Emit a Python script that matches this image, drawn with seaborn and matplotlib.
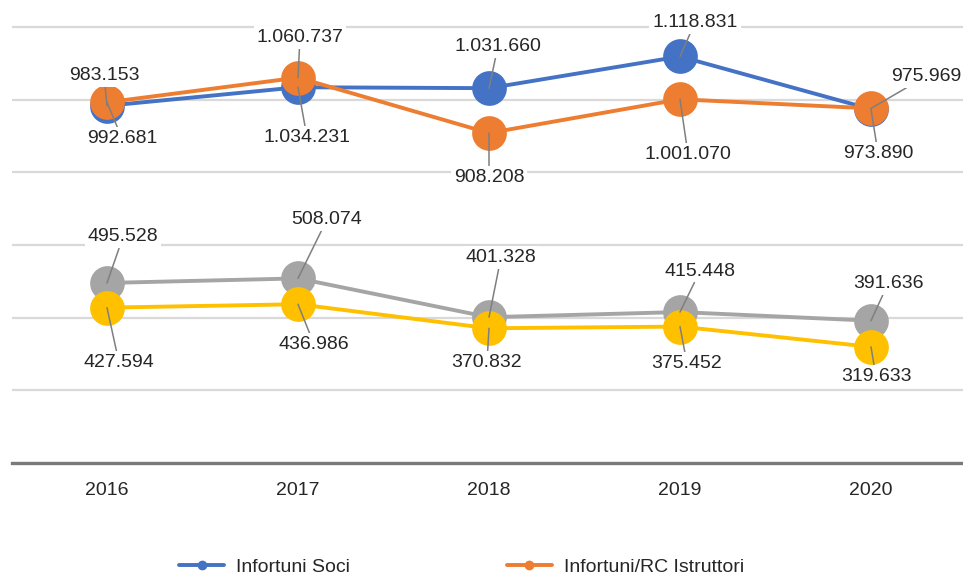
import pandas as pd
import matplotlib
matplotlib.use("Agg")
import matplotlib.pyplot as plt
from matplotlib.lines import Line2D
import seaborn as sns

# Data
years = [2016, 2017, 2018, 2019, 2020]
infortuni_soci = [983153, 1034231, 1031660, 1118831, 973890]
infortuni_rc_istruttori = [992681, 1060737, 908208, 1001070, 975969]
serie_grigia = [495528, 508074, 401328, 415448, 391636]
serie_gialla = [427594, 436986, 370832, 375452, 319633]

series_names = ["Infortuni Soci", "Infortuni/RC Istruttori", "Serie 3", "Serie 4"]
series_values = [infortuni_soci, infortuni_rc_istruttori, serie_grigia, serie_gialla]
colors = ["#4472C4", "#ED7D31", "#A5A5A5", "#FFC000"]

# label offsets in pixels (dx, dy up) for each point
label_offsets = [
    [(-3, 30), (9, -50), (9, 42), (15, 34), (7, -44)],
    [(15, -36), (2, 40), (0, -44), (8, -55), (55, 32)],
    [(16, 46), (29, 59), (12, 60), (20, 41), (17, 37)],
    [(12, -55), (16, -40), (-2, -34), (7, -37), (5, -30)],
]

df = pd.DataFrame({
    "anno": years * len(series_names),
    "valore": [v for vals in series_values for v in vals],
    "serie": [n for n in series_names for _ in years],
})

sns.set_theme(style="white")
plt.rcParams["font.family"] = ["Liberation Sans", "DejaVu Sans"]

fig = plt.figure(figsize=(9.63, 5.77), dpi=100)
ax = fig.add_axes([11.5 / 963, 1 - 463 / 577, 955 / 963, 453 / 577])

sns.lineplot(data=df, x="anno", y="valore", hue="serie", hue_order=series_names,
             palette=colors, marker="o", markersize=25, markeredgewidth=0,
             linewidth=2.8, legend=False, ax=ax)

ax.set_xlim(2015.5, 2020.5)
ax.set_ylim(0, 1246800)
ax.set_yticks([0, 200000, 400000, 600000, 800000, 1000000, 1200000])
ax.set_yticklabels([])
ax.set_xticks(years)
ax.set_xticklabels([str(y) for y in years], fontsize=14, color="#262626")
ax.tick_params(axis="x", length=0, pad=14)
ax.tick_params(axis="y", length=0)
ax.set_xlabel("")
ax.set_ylabel("")
ax.yaxis.grid(True, color="#d9d9d9", linewidth=1.6)
ax.set_axisbelow(True)
for s in ["top", "left", "right"]:
    ax.spines[s].set_visible(False)
ax.spines["bottom"].set_color("#7a7a7a")
ax.spines["bottom"].set_linewidth(2.4)

# data labels with leader lines
for vals, offs in zip(series_values, label_offsets):
    for x, v, (dx, dy) in zip(years, vals, offs):
        ax.annotate(f"{v:,}".replace(",", "."), xy=(x, v), xytext=(dx, dy),
                    textcoords="offset pixels", ha="center", va="center",
                    fontsize=14, color="#262626", zorder=5,
                    bbox=dict(boxstyle="square,pad=0.15", fc="white", ec="none"),
                    arrowprops=dict(arrowstyle="-", color="#7f7f7f", lw=1.1,
                                    shrinkA=0, shrinkB=0))

handles = [Line2D([0], [0], color=c, lw=2.8, marker="o", markersize=6)
           for c in colors[:2]]
fig.legend(handles, series_names[:2], loc="center", ncol=2, frameon=False,
           bbox_to_anchor=(461.5 / 963, 1 - 567 / 577), fontsize=14,
           handlelength=2.3, handletextpad=0.6, columnspacing=8.1,
           labelcolor="#262626")

plt.savefig("out.png", dpi=100)
